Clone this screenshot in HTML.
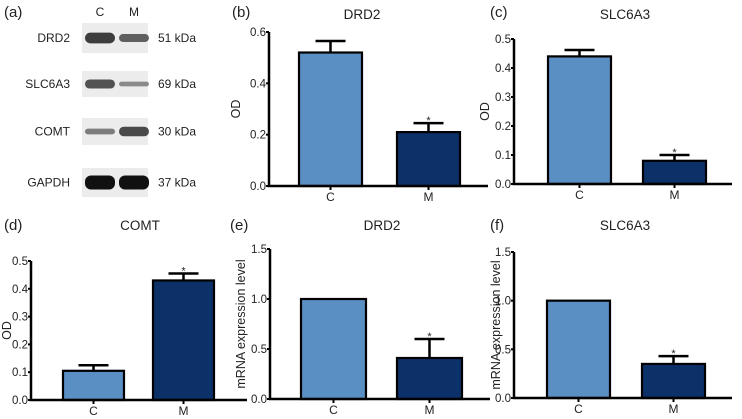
<!DOCTYPE html>
<html><head><meta charset="utf-8"><style>
body{margin:0;background:#fff;}
svg{display:block;font-family:"Liberation Sans",sans-serif;}
</style></head><body>
<svg id="fig" width="742" height="419" viewBox="0 0 742 419">
<g id="blot">
<text x="4" y="17" font-size="15" fill="#222">(a)</text>
<text x="100" y="16" font-size="12" text-anchor="middle" fill="#222">C</text>
<text x="134" y="16" font-size="12" text-anchor="middle" fill="#222">M</text>
</g>
</svg>
<script>
const categories=["C","M"];
const blotProteins=["DRD2","SLC6A3","COMT","GAPDH"];
const blotKda=["51 kDa","69 kDa","30 kDa","37 kDa"];
const blotIntensityC=[0.7,0.55,0.25,1.0];
const blotIntensityM=[0.45,0.15,0.6,1.0];
const titles=["DRD2","SLC6A3","COMT","DRD2","SLC6A3"];
const panelLetters=["(b)","(c)","(d)","(e)","(f)"];
const yTitles=["OD","OD","OD","mRNA expression level","mRNA expression level"];
const valuesC=[0.52,0.44,0.105,1.0,1.0];
const valuesM=[0.21,0.08,0.43,0.41,0.35];
const errC=[0.045,0.022,0.02,0,0];
const errM=[0.035,0.02,0.025,0.19,0.08];
const yMax=[0.6,0.5,0.5,1.5,1.5];
const tickLabels=[["0.0","0.2","0.4","0.6"],["0.0","0.1","0.2","0.3","0.4","0.5"],["0.0","0.1","0.2","0.3","0.4","0.5"],["0.0","0.5","1.0","1.5"],["0.0","0.5","1.0","1.5"]];
const stars=["M","M","M","M","M"];
const NS="http://www.w3.org/2000/svg";
const svg=document.getElementById('fig');
function mk(tag,attrs,parent){const e=document.createElementNS(NS,tag);for(const k in attrs)e.setAttribute(k,attrs[k]);(parent||svg).appendChild(e);return e;}
const blot=document.getElementById('blot');
const blotY=[23,71,118,168],blotH=[30,26,27,29];
blotProteins.forEach((p,i)=>{
 const y=blotY[i],h=blotH[i];
 const t=mk('text',{x:70,y:y+h/2+4,'font-size':12,'text-anchor':'end',fill:'#222'},blot);t.textContent=p;
 
 
 const r=mk('rect',{x:82,y:y,width:66,height:h,fill:'#ececec'},blot);
 
 
 [[blotIntensityC[i],100],[blotIntensityM[i],134]].forEach(([v,cx],j)=>{
  const bh=3+v*11;
  const b=mk('rect',{x:cx-15,y:y+h/2-bh/2,width:30,height:bh,rx:Math.min(bh/2,6),fill:'#111','fill-opacity':0.35+0.65*v},blot);
  
  
 });
 const k=mk('text',{x:158,y:y+h/2+4,'font-size':12,fill:'#222'},blot);k.textContent=blotKda[i];
 
 
});
const geo=[
 {ax:269,top:32,bot:186,bx:[299,397],bw:63,right:488,lx:232,ly:17,tx:362,ty:19,ytx:240},
 {ax:514,top:39,bot:184,bx:[548,643],bw:63,right:732,lx:490,ly:17,tx:625,ty:19,ytx:489},
 {ax:31,top:261,bot:400,bx:[63,153],bw:61,right:247,lx:4,ly:230,tx:140,ty:230,ytx:11},
 {ax:270,top:249,bot:399,bx:[301,397],bw:65,right:490,lx:230,ly:230,tx:382,ty:230,ytx:245},
 {ax:514,top:252,bot:398,bx:[547,642],bw:63,right:732,lx:490,ly:230,tx:625,ty:230,ytx:500}
];
const colors=["#5a8fc3","#0c3169"];
geo.forEach((g,i)=>{
 const grp=mk('g',{});
 
 
 const ys=v=>g.bot-(v/yMax[i])*(g.bot-g.top);
 const L=mk('text',{x:g.lx,y:g.ly,'font-size':15,fill:'#222'},grp);L.textContent=panelLetters[i];
 
 
 const T=mk('text',{x:g.tx,y:g.ty,'font-size':13.5,'text-anchor':'middle',fill:'#222'},grp);T.textContent=titles[i];
 
 
 const yl=(g.top+g.bot)/2;
 const YT=mk('text',{x:g.ytx,y:yl,'font-size':12.5,'text-anchor':'middle',fill:'#222',transform:`rotate(-90 ${g.ytx} ${yl})`},grp);YT.textContent=yTitles[i];
 
 
 const vals=[valuesC[i],valuesM[i]],errs=[errC[i],errM[i]];
 vals.forEach((v,j)=>{
  const x=g.bx[j],cx=x+g.bw/2;
  if(errs[j]>0){
   const e=mk('path',{d:`M${cx},${ys(v)} V${ys(v+errs[j])} M${cx-15},${ys(v+errs[j])} H${cx+15}`,stroke:'#000','stroke-width':2.5,fill:'none'},grp);
   
   
  }
  const r=mk('rect',{x:x,y:ys(v),width:g.bw,height:g.bot-ys(v),fill:colors[j],stroke:'#000','stroke-width':2.2},grp);
  
  
  if(stars[i]===categories[j]){
   const s=mk('text',{x:cx,y:ys(v+errs[j])+1,'font-size':11,'text-anchor':'middle',fill:'#222'},grp);s.textContent='*';
   
   
  }
  const xl=mk('text',{x:cx,y:g.bot+15,'font-size':12,'text-anchor':'middle',fill:'#222'},grp);xl.textContent=categories[j];
  
  
  const tk=mk('line',{x1:cx,x2:cx,y1:g.bot,y2:g.bot+4,stroke:'#000','stroke-width':2},grp);
  
  
 });
 tickLabels[i].forEach(t=>{
  const y=ys(parseFloat(t));
  const tl=mk('text',{x:g.ax-3,y:y+4,'font-size':11.5,'text-anchor':'end',fill:'#222'},grp);tl.textContent=t;
  
  
  const tk=mk('line',{x1:g.ax-3,x2:g.ax,y1:y,y2:y,stroke:'#000','stroke-width':2},grp);
  
  
 });
 const ax=mk('path',{d:`M${g.ax},${g.top} V${g.bot} H${g.right}`,stroke:'#000','stroke-width':2.5,fill:'none'},grp);
 
 
});
</script>
</body></html>
